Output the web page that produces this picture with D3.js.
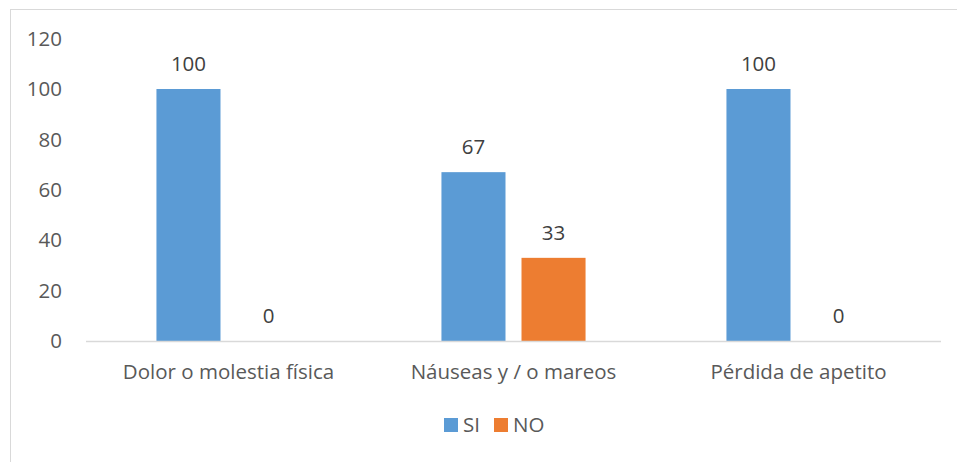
<!DOCTYPE html>
<html lang="es">
<head>
    <meta charset="UTF-8">
    <title>SI / NO</title>
    <script src="https://d3js.org/d3.v7.min.js"></script>
    <style>
        body {
            margin: 0;
            padding: 0;
            background: white;
            font-family: 'Open Sans', sans-serif;
        }
        .tick-label { font-size: 20.5px; fill: #595959; }
        .cat-label { font-size: 20.5px; fill: #595959; text-anchor: middle; }
        .value-label { font-size: 20.5px; fill: #404040; text-anchor: middle; }
        .legend-label { font-size: 20.5px; fill: #595959; }
    </style>
</head>
<body>
    <script>
        // data
        var categories = ["Dolor o molestia física", "Náuseas y / o mareos", "Pérdida de apetito"];
        var seriesNames = ["SI", "NO"];
        var siValues = [100, 67, 100];
        var noValues = [0, 33, 0];
        var yTicks = [0, 20, 40, 60, 80, 100, 120];
        var colors = { SI: "#5b9bd5", NO: "#ed7d31" };

        var W = 957, H = 462;

        var svg = d3.select("body").append("svg")
            .attr("width", W)
            .attr("height", H);

        // chart frame (runs off the right and bottom edges)
        svg.append("rect")
            .attr("x", 10.5)
            .attr("y", 9.5)
            .attr("width", 1000)
            .attr("height", 1000)
            .attr("fill", "white")
            .attr("stroke", "#d9d9d9")
            .attr("stroke-width", 1);

        var x0 = d3.scaleBand()
            .domain(categories)
            .range([86, 941])
            .padding(0);

        var x1 = d3.scaleBand()
            .domain(seriesNames)
            .range([0, x0.bandwidth()])
            .paddingInner(0.2)
            .paddingOuter(0.88);

        var y = d3.scaleLinear()
            .domain([0, 120])
            .range([341, 38.6]);

        // y tick labels, no gridlines
        svg.append("g")
            .selectAll("text")
            .data(yTicks)
            .enter().append("text")
            .attr("class", "tick-label")
            .attr("x", 62)
            .attr("y", function(d) { return y(d); })
            .attr("dy", "0.35em")
            .attr("text-anchor", "end")
            .text(function(d) { return d; });

        var rows = categories.map(function(c, i) {
            return { cat: c, values: [
                { key: "SI", value: siValues[i] },
                { key: "NO", value: noValues[i] }
            ] };
        });

        var groups = svg.append("g")
            .selectAll("g")
            .data(rows)
            .enter().append("g")
            .attr("transform", function(d) { return "translate(" + x0(d.cat) + ",0)"; });

        groups.selectAll("rect")
            .data(function(d) { return d.values; })
            .enter().append("rect")
            .attr("x", function(d) { return x1(d.key); })
            .attr("y", function(d) { return y(d.value); })
            .attr("width", x1.bandwidth())
            .attr("height", function(d) { return y(0) - y(d.value); })
            .attr("fill", function(d) { return colors[d.key]; });

        groups.selectAll("text")
            .data(function(d) { return d.values; })
            .enter().append("text")
            .attr("class", "value-label")
            .attr("x", function(d) { return x1(d.key) + x1.bandwidth() / 2; })
            .attr("y", function(d) { return y(d.value) - 25; })
            .attr("dy", "0.35em")
            .text(function(d) { return d.value; });

        // x axis line
        svg.append("line")
            .attr("x1", x0.range()[0])
            .attr("x2", x0.range()[1])
            .attr("y1", y(0) + 0.5)
            .attr("y2", y(0) + 0.5)
            .attr("stroke", "#d9d9d9")
            .attr("stroke-width", 1.5);

        svg.append("g")
            .selectAll("text")
            .data(categories)
            .enter().append("text")
            .attr("class", "cat-label")
            .attr("x", function(d) { return x0(d) + x0.bandwidth() / 2; })
            .attr("y", 372)
            .attr("dy", "0.35em")
            .text(function(d) { return d; });

        // legend
        var legendX = [444, 494];
        var legend = svg.append("g")
            .selectAll("g")
            .data(seriesNames)
            .enter().append("g")
            .attr("transform", function(d, i) { return "translate(" + legendX[i] + ",418)"; });

        legend.append("rect")
            .attr("width", 14)
            .attr("height", 14)
            .attr("fill", function(d) { return colors[d]; });

        legend.append("text")
            .attr("class", "legend-label")
            .attr("x", 19)
            .attr("y", 7)
            .attr("dy", "0.35em")
            .text(function(d) { return d; });
    </script>
</body>
</html>
